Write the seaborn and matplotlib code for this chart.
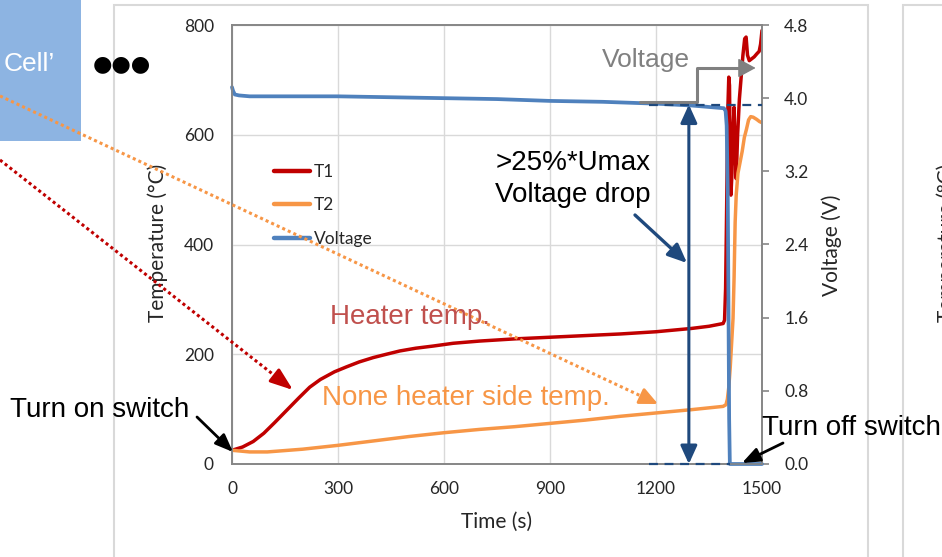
import matplotlib
matplotlib.use('Agg')
import matplotlib.pyplot as plt
import seaborn as sns
from matplotlib.lines import Line2D
from matplotlib.patches import Rectangle
from matplotlib.ticker import FormatStrFormatter

# T1 - heater side temperature (degC)
t1_time = [0, 30, 60, 90, 120, 155, 190, 220, 250, 290, 324, 360, 400, 437, 475, 520, 570, 626,
           700, 800, 900, 1000, 1100, 1200, 1300, 1350, 1390, 1394, 1397, 1400, 1403, 1406, 1408,
           1410, 1412, 1415, 1418, 1421, 1424, 1427, 1431, 1436, 1441, 1446, 1451, 1455, 1459,
           1464, 1470, 1478, 1486, 1492, 1496, 1500]
t1_temp = [25, 31, 41, 56, 75, 98, 121, 140, 154, 168, 177, 186, 194, 200, 206, 211, 215, 220,
           224, 228, 231, 234, 237, 241, 247, 251, 256, 262, 320, 470, 640, 705, 690,
           560, 490, 530, 610, 650, 570, 520, 600, 665, 705, 745, 775, 778, 745,
           735, 738, 742, 748, 752, 765, 790]

# T2 - non heater side temperature (degC)
t2_time = [0, 50, 100, 200, 300, 400, 500, 600, 700, 800, 900, 1000, 1100, 1200, 1300, 1390,
           1398, 1402, 1406, 1410, 1414, 1418, 1421, 1424, 1427, 1432, 1438, 1444, 1450, 1456,
           1462, 1468, 1475, 1485, 1493, 1500]
t2_temp = [25, 22, 22, 27, 34, 42, 50, 57, 63, 68, 74, 80, 87, 93, 99, 105,
           108, 118, 140, 175, 220, 265, 340, 440, 490, 530, 550, 570, 595, 610,
           627, 633, 632, 628, 624, 622]

# cell voltage (V)
v_time = [0, 3, 8, 20, 50, 150, 300, 450, 600, 750, 900, 1050, 1200, 1300, 1392, 1397, 1400,
          1403, 1405, 1407, 1409, 1450, 1500]
v_volt = [4.12, 4.08, 4.04, 4.03, 4.02, 4.02, 4.02, 4.01, 4.00, 3.99, 3.97, 3.96, 3.94, 3.92,
          3.89, 3.86, 3.70, 3.00, 1.80, 0.50, 0.00, 0.00, 0.00]

temp_ticks = [0, 200, 400, 600, 800]
volt_ticks = [0.0, 0.8, 1.6, 2.4, 3.2, 4.0, 4.8]
time_ticks = [0, 300, 600, 900, 1200, 1500]

RED, ORANGE, BLUE = '#C00000', '#F79646', '#4F81BD'
NAVY, GRAY = '#1F497D', '#808080'

sns.set_style('white')
plt.rcParams['font.family'] = ['Lato', 'DejaVu Sans']
SLIDE = ['Liberation Sans', 'DejaVu Sans']

W, H = 942, 557
fig = plt.figure(figsize=(W / 100, H / 100), dpi=100)


def fx(x):
    return x / W


def fy(y):
    return 1 - y / H


ax = fig.add_axes([fx(232), fy(464), fx(762) - fx(232), fy(25) - fy(464)])
ax2 = ax.twinx()

sns.lineplot(x=t1_time, y=t1_temp, ax=ax, color=RED, linewidth=2.5, sort=False, legend=False)
sns.lineplot(x=t2_time, y=t2_temp, ax=ax, color=ORANGE, linewidth=2.5, sort=False, legend=False)
sns.lineplot(x=v_time, y=v_volt, ax=ax2, color=BLUE, linewidth=2.7, sort=False, legend=False)
ax2.lines[0].set_clip_on(False)

ax.set_xlim(0, 1500)
ax.set_ylim(0, 800)
ax2.set_ylim(0, 4.8)
ax.set_xticks(time_ticks)
ax.set_yticks(temp_ticks)
ax2.set_yticks(volt_ticks)
ax2.yaxis.set_major_formatter(FormatStrFormatter('%.1f'))
ax.grid(True, color='#D9D9D9', linewidth=1)
ax2.grid(False)
for a in (ax, ax2):
    for s in a.spines.values():
        s.set_color('#868686')
        s.set_linewidth(1.2)
ax.tick_params(axis='y', length=0, pad=13, labelsize=12.5)
ax.tick_params(axis='x', length=0, pad=12, labelsize=12.5)
ax2.tick_params(axis='y', length=5, width=1.2, color='#868686', direction='out', pad=11,
                labelsize=12.5)

ax.set_ylabel('Temperature (°C)', fontsize=15)
ax.yaxis.label.set_va('center')
ax.yaxis.set_label_coords((158 - 232) / 530, (464 - 243) / 439)
ax2.set_ylabel('Voltage (V)', fontsize=15)
ax2.yaxis.label.set_va('center')
ax2.yaxis.set_label_coords((832 - 232) / 530, (464 - 245) / 439)
ax.set_xlabel('Time (s)', fontsize=15)
ax.xaxis.label.set_va('center')
ax.xaxis.set_label_coords(0.5, (464 - 522) / 439)

handles = [Line2D([], [], color=RED, lw=3.2), Line2D([], [], color=ORANGE, lw=3.2),
           Line2D([], [], color=BLUE, lw=3.2)]
ax2.legend(handles, ['T1', 'T2', 'Voltage'], loc='upper left', bbox_to_anchor=(fx(267), fy(157)),
           bbox_transform=fig.transFigure, frameon=False, fontsize=12.5, handlelength=2.1,
           handletextpad=0.2, labelspacing=1.0, borderaxespad=0, borderpad=0.4)

# reference lines on voltage axis
ax2.plot([1180, 1500], [3.93, 3.93], color=NAVY, lw=1.6, ls=(0, (4, 3)), clip_on=False, zorder=5)
ax2.plot([1180, 1410], [0.0, 0.0], color=NAVY, lw=1.6, ls=(0, (4, 3)), clip_on=False, zorder=5)
ax2.annotate('', xy=(1293, 0.0), xytext=(1293, 3.93), xycoords='data',
             arrowprops=dict(arrowstyle='<|-|>,head_length=1.1,head_width=0.5', color=NAVY,
                             lw=2.2, shrinkA=0, shrinkB=0, mutation_scale=10))

# gray "Voltage" callout
ax2.add_line(Line2D([1155, 1316, 1316, 1450], [3.958, 3.958, 4.33, 4.33], color=GRAY, lw=2.2,
                    clip_on=False))
ax2.annotate('', xy=(1482, 4.33), xytext=(1440, 4.33), xycoords='data',
             arrowprops=dict(arrowstyle='-|>,head_length=1.1,head_width=0.6', color=GRAY,
                             lw=1, shrinkA=0, shrinkB=0, mutation_scale=10))


def arrow(x0, y0, x1, y1, color, lw, hl, hw, dotted=False):
    style = '-|>,head_length=%.2f,head_width=%.2f' % (hl * 0.072, hw * 0.036)
    if dotted:
        dx, dy = x1 - x0, y1 - y0
        n = (dx * dx + dy * dy) ** 0.5
        bx, by = x1 - dx / n * hl, y1 - dy / n * hl
        fig.add_artist(Line2D([fx(x0), fx(bx)], [fy(y0), fy(by)], transform=fig.transFigure,
                              color=color, lw=lw, ls=(0, (1, 1))))
        x0, y0 = bx, by
    ax2.annotate('', xy=(fx(x1), fy(y1)), xytext=(fx(x0), fy(y0)), xycoords='figure fraction',
                 arrowprops=dict(arrowstyle=style, color=color, lw=lw, shrinkA=0, shrinkB=0,
                                 mutation_scale=10))


# slide frames and cell box
fig.add_artist(Rectangle((fx(114), fy(562)), fx(868) - fx(114), fy(5) - fy(562),
                         transform=fig.transFigure, fill=False, edgecolor='#D9D9D9', lw=1.5,
                         zorder=0.5))
fig.add_artist(Rectangle((fx(903), fy(562)), fx(960) - fx(903), fy(5) - fy(562),
                         transform=fig.transFigure, fill=False, edgecolor='#D9D9D9', lw=1.5,
                         zorder=0.5))
fig.add_artist(Rectangle((0, fy(141)), fx(81), 1 - fy(141), transform=fig.transFigure,
                         facecolor='#8DB4E2', edgecolor='none', zorder=0.6))
fig.text(fx(4), fy(64), 'Cell\u2019', color='white', fontsize=19, family=SLIDE,
         ha='left', va='center')
fig.text(fx(122), fy(64), '\u25cf\u25cf\u25cf', color='black', fontsize=16,
         family=['DejaVu Sans'], ha='center', va='center')
fig.text(fx(947), fy(243), 'Temperature (°C)', fontsize=15, rotation=90, ha='center',
         va='center')

arrow(0, 96, 658, 404, ORANGE, 2.2, 15, 14, dotted=True)
arrow(0, 160, 293, 390, RED, 2.2, 19, 14, dotted=True)
arrow(197, 417, 233, 452, 'black', 2.0, 15, 12)
arrow(783, 443, 742, 463, 'black', 2.0, 15, 12)
arrow(635, 215, 687, 263, NAVY, 2.4, 16, 14)

fig.text(fx(646), fy(60), 'Voltage', color=GRAY, fontsize=19, family=SLIDE,
         ha='center', va='center')
fig.text(fx(573), fy(163), '>25%*Umax', color='black', fontsize=20, family=SLIDE,
         ha='center', va='center')
fig.text(fx(573), fy(195), 'Voltage drop', color='black', fontsize=20, family=SLIDE,
         ha='center', va='center')
fig.text(fx(330), fy(317), 'Heater temp.', color='#C0504D', fontsize=20, family=SLIDE,
         ha='left', va='center')
fig.text(fx(322), fy(398), 'None heater side temp.', color=ORANGE, fontsize=20, family=SLIDE,
         ha='left', va='center')
fig.text(fx(10), fy(410), 'Turn on switch', color='black', fontsize=20, family=SLIDE,
         ha='left', va='center')
fig.text(fx(762), fy(428), 'Turn off switch', color='black', fontsize=20, family=SLIDE,
         ha='left', va='center')

fig.savefig('out.png', dpi=100, facecolor='white')
